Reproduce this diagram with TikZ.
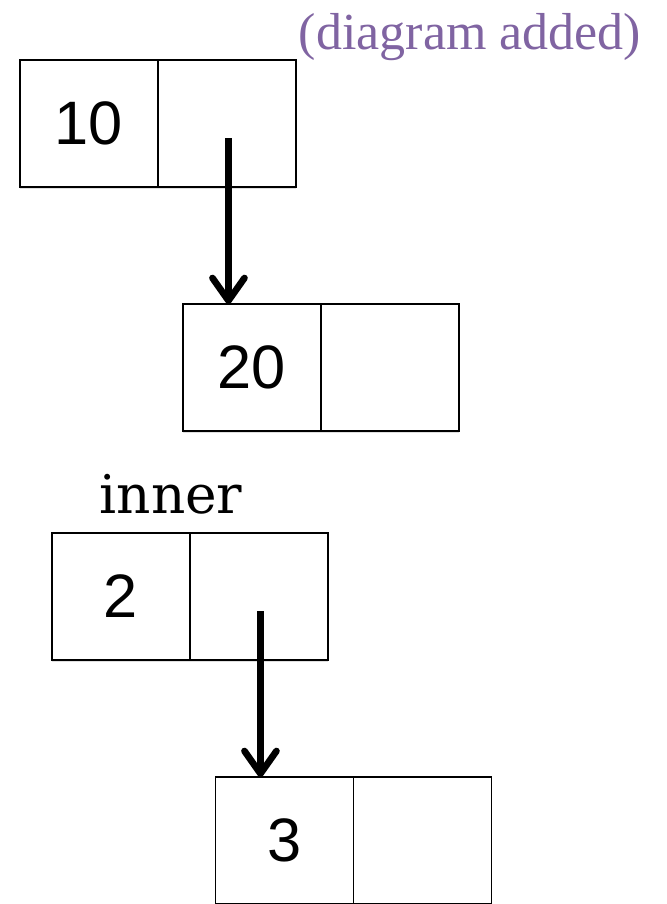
\documentclass[tikz,border=0pt]{standalone}
\usepackage{fontspec}
\setmainfont{Liberation Serif}
\newfontfamily\numfont{Liberation Sans}
\newfontfamily\typefont{DejaVu Serif}
\usetikzlibrary{positioning, arrows.meta, shadows}

\definecolor{notepurple}{RGB}{128,100,162}

\tikzset{
  cell/.style={draw, line width=1.2pt, fill=white, minimum width=103.5pt,
    minimum height=95.25pt, inner sep=0pt, outer sep=0pt,
    font=\numfont\fontsize{46}{50}\selectfont,
    drop shadow={shadow xshift=0pt, shadow yshift=-1.5pt, opacity=.25}},
  ptr/.style={line width=5pt,
    -{Straight Barb[length=17pt, width=24pt, line cap=round, line join=round]}},
}

\begin{document}
\begin{tikzpicture}[x=0.75pt, y=-0.75pt, node distance=103.5pt, on grid]
  \useasboundingbox (0,0) rectangle (667,904);

  \node[text=notepurple, font=\fontsize{39}{44}\selectfont] (note) at (470,37) {(diagram added)};

  % first list
  \node[cell] (v10) at (89,123.5) {10};
  \node[cell] (p10) [right=of v10] {};
  \node[cell] (v20) at (252,367.5) {20};
  \node[cell] (p20) [right=of v20] {};

  % inner list
  \node[font=\typefont\fontsize{40}{44}\selectfont] (inner) at (171,494) {inner};
  \node[cell] (v2) at (121,596.5) {2};
  \node[cell] (p2) [right=of v2] {};
  \node[cell] (v3) at (284.5,840.5) {3};
  \node[cell] (p3) [right=of v3] {};

  \coordinate (s10) at ([xshift=1.1pt, yshift=-11pt]p10.center);
  \coordinate (s2) at ([xshift=1.1pt, yshift=-11pt]p2.center);
  \draw[ptr] (s10) -- (s10 |- v20.north);
  \draw[ptr] (s2) -- (s2 |- v3.north);
\end{tikzpicture}
\end{document}
